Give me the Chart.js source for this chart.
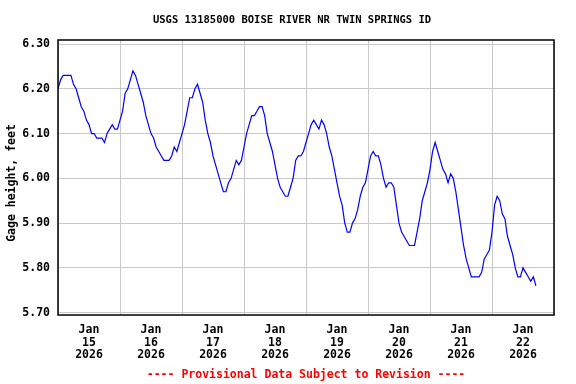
<!DOCTYPE html>
<html>
<head>
<meta charset="utf-8">
<script src="https://cdn.jsdelivr.net/npm/chart.js@4.4.1/dist/chart.umd.min.js"></script>
<style>
  html, body { margin: 0; padding: 0; background: #fff; }
  #wrap { width: 576px; height: 384px; }
</style>
</head>
<body>
<div id="wrap"><canvas id="grafico" width="576" height="384"></canvas></div>
<script>
const titulo = 'USGS 13185000 BOISE RIVER NR TWIN SPRINGS ID';
const pie = '---- Provisional Data Subject to Revision ----';
const ejeY = 'Gage height, feet';

// lecturas cada hora desde Jan 15 2026 00:00
const gageHeight = [
  6.20, 6.22, 6.23, 6.23, 6.23, 6.23, 6.21, 6.20, 6.18, 6.16, 6.15, 6.13,
  6.12, 6.10, 6.10, 6.09, 6.09, 6.09, 6.08, 6.10, 6.11, 6.12, 6.11, 6.11,
  6.13, 6.15, 6.19, 6.20, 6.22, 6.24, 6.23, 6.21, 6.19, 6.17, 6.14, 6.12,
  6.10, 6.09, 6.07, 6.06, 6.05, 6.04, 6.04, 6.04, 6.05, 6.07, 6.06, 6.08,
  6.10, 6.12, 6.15, 6.18, 6.18, 6.20, 6.21, 6.19, 6.17, 6.13, 6.10, 6.08,
  6.05, 6.03, 6.01, 5.99, 5.97, 5.97, 5.99, 6.00, 6.02, 6.04, 6.03, 6.04,
  6.07, 6.10, 6.12, 6.14, 6.14, 6.15, 6.16, 6.16, 6.14, 6.10, 6.08, 6.06,
  6.03, 6.00, 5.98, 5.97, 5.96, 5.96, 5.98, 6.00, 6.04, 6.05, 6.05, 6.06,
  6.08, 6.10, 6.12, 6.13, 6.12, 6.11, 6.13, 6.12, 6.10, 6.07, 6.05, 6.02,
  5.99, 5.96, 5.94, 5.90, 5.88, 5.88, 5.90, 5.91, 5.93, 5.96, 5.98, 5.99,
  6.02, 6.05, 6.06, 6.05, 6.05, 6.03, 6.00, 5.98, 5.99, 5.99, 5.98, 5.94,
  5.90, 5.88, 5.87, 5.86, 5.85, 5.85, 5.85, 5.88, 5.91, 5.95, 5.97, 5.99,
  6.02, 6.06, 6.08, 6.06, 6.04, 6.02, 6.01, 5.99, 6.01, 6.00, 5.97, 5.93,
  5.89, 5.85, 5.82, 5.80, 5.78, 5.78, 5.78, 5.78, 5.79, 5.82, 5.83, 5.84,
  5.88, 5.94, 5.96, 5.95, 5.92, 5.91, 5.87, 5.85, 5.83, 5.80, 5.78, 5.78,
  5.80, 5.79, 5.78, 5.77, 5.78, 5.76
];

const gridHours = [0, 24, 48, 72, 96, 120, 144, 168, 192];
const dayTicks = [12, 36, 60, 84, 108, 132, 156, 180];
const dayLabels = [
  ['Jan', '15', '2026'], ['Jan', '16', '2026'], ['Jan', '17', '2026'], ['Jan', '18', '2026'],
  ['Jan', '19', '2026'], ['Jan', '20', '2026'], ['Jan', '21', '2026'], ['Jan', '22', '2026']
];
const yTicks = [5.70, 5.80, 5.90, 6.00, 6.10, 6.20, 6.30];

const fuente = "'DejaVu Sans Mono', monospace";
const gris = '#c8c8c8';

// marco negro, titulo y leyenda roja
const marco = {
  id: 'marco',
  afterDraw(chart) {
    const { ctx, chartArea: a } = chart;
    ctx.save();
    ctx.strokeStyle = '#000';
    ctx.lineWidth = 1.5;
    ctx.strokeRect(a.left, a.top, a.right - a.left, a.bottom - a.top);

    ctx.textAlign = 'center';
    ctx.textBaseline = 'middle';
    ctx.fillStyle = '#000';
    ctx.font = 'bold 10.5px ' + fuente;
    ctx.fillText(titulo, 292, 20);

    ctx.fillStyle = '#ff0000';
    ctx.font = 'bold 11.5px ' + fuente;
    ctx.fillText(pie, 306, 375);

    ctx.fillStyle = '#000';
    ctx.translate(12, 183);
    ctx.rotate(-Math.PI / 2);
    ctx.fillText(ejeY, 0, 0);
    ctx.restore();
  }
};

const puntos = gageHeight.map((v, i) => ({ x: i, y: v }));

new Chart(document.getElementById('grafico').getContext('2d'), {
  type: 'line',
  data: {
    datasets: [{
      data: puntos,
      borderColor: '#0000ff',
      borderWidth: 1.2,
      pointRadius: 0,
      tension: 0,
      fill: false
    }]
  },
  options: {
    responsive: false,
    animation: false,
    layout: { padding: { left: 0, right: 22, top: 40, bottom: 0 } },
    plugins: { legend: { display: false }, tooltip: { enabled: false } },
    scales: {
      x: {
        type: 'linear',
        min: 0,
        max: 192,
        afterBuildTicks: s => {
          s.ticks = [...gridHours, ...dayTicks].sort((a, b) => a - b).map(v => ({ value: v }));
        },
        afterFit: s => { s.height = 69; },
        grid: {
          color: c => gridHours.includes(c.tick.value) ? gris : 'rgba(0,0,0,0)',
          drawTicks: false
        },
        border: { display: false },
        ticks: {
          autoSkip: false,
          maxRotation: 0,
          minRotation: 0,
          padding: 9,
          color: '#000',
          font: { family: fuente, size: 11.5, weight: 'bold', lineHeight: '12.5px' },
          callback: v => {
            const i = dayTicks.indexOf(v);
            return i >= 0 ? dayLabels[i] : '';
          }
        }
      },
      y: {
        type: 'linear',
        min: 5.6947,
        max: 6.309,
        afterBuildTicks: s => { s.ticks = yTicks.map(v => ({ value: v })); },
        afterFit: s => { s.width = 58; },
        grid: { color: gris, drawTicks: false },
        border: { display: false },
        ticks: {
          padding: 8,
          color: '#000',
          font: { family: fuente, size: 11.5, weight: 'bold' },
          callback: v => v.toFixed(2)
        }
      }
    }
  },
  plugins: [marco]
});
</script>
</body>
</html>
